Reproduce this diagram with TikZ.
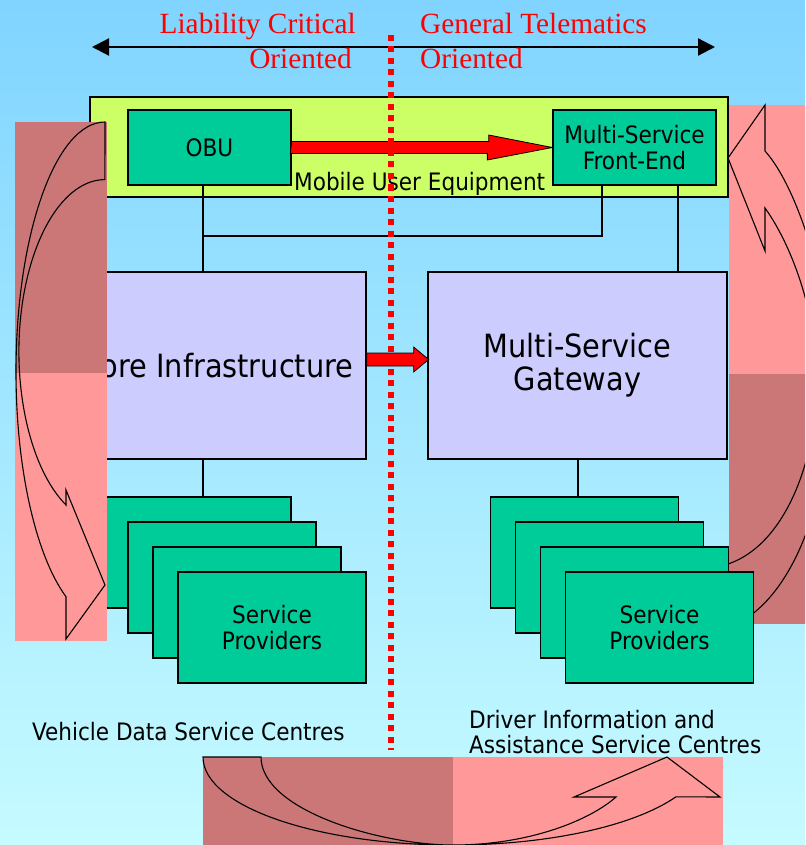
\documentclass[tikz,border=0pt]{standalone}
\usepackage{fontspec}
\setmainfont{DejaVu Sans Condensed}
\newfontfamily\timesred{Liberation Serif}
\usetikzlibrary{arrows.meta, positioning, calc}

\definecolor{skytop}{RGB}{128,212,255}
\definecolor{skybot}{RGB}{198,251,255}
\definecolor{spgreen}{RGB}{0,204,153}
\definecolor{mueyellow}{RGB}{204,255,102}
\definecolor{gwlilac}{RGB}{204,204,255}
\definecolor{pinkdark}{RGB}{204,119,119}
\definecolor{pinklight}{RGB}{255,153,153}

\begin{document}
\begin{tikzpicture}[
            x=1pt, y=-1pt,
            every node/.style={align=center, inner sep=0pt, font=\fontsize{24}{26}\selectfont},
            box/.style={draw=black, line width=1.3pt, fill=spgreen},
            bigbox/.style={draw=black, line width=1.3pt, fill=gwlilac, font=\fontsize{32}{33}\selectfont},
            spbox/.style={box, minimum width=188, minimum height=111},
            wire/.style={draw=black, line width=1.3pt},
            redarrow/.style={fill=red, draw=black, line width=0.8pt},
            turn/.style={draw=black, line width=1.1pt},
            redtext/.style={text=red, font=\timesred\fontsize{29.3}{35}\selectfont}
        ]
            \useasboundingbox (0,0) rectangle (805,845);
            \shade[top color=skytop, bottom color=skybot] (0,0) rectangle (805,845);
            \begin{scope}
            \clip (0,0) rectangle (805,845);

            \fill[pinklight] (729,105) rectangle (815,374);
            \fill[pinkdark] (729,374) rectangle (815,624);
            \draw[turn] (765,151) .. controls (800,190) and (832,300) .. (832,380)
                .. controls (832,480) and (800,600) .. (728,628) -- (728,564)
                .. controls (785,545) and (817,460) .. (817,380)
                .. controls (817,320) and (795,250) .. (765,208)
                -- (765,251) -- (728,158) -- (765,105) -- cycle;

            \node[box, fill=mueyellow, minimum width=638, minimum height=100] (mue) at (409,147) {};
            \node[box, minimum width=163, minimum height=75] (obu) at (209.5,147.5) {OBU};
            \node[box, minimum width=163, minimum height=75] (msfe) at (634.5,147.5) {Multi-Service\\Front-End};
            \draw[redarrow] (obu.east) ++(0,-6) -- ++(197,0) -- ++(0,-6.5) -- (msfe.west)
                -- ++(-65,12.5) -- ++(0,-6.5) -- ++(-197,0) -- cycle;
            \node[anchor=base west] (muelabel) at (294,190) {Mobile User Equipment};

            \node[bigbox, minimum width=298, minimum height=187] (core) at (217,365.5) {Core Infrastructure};
            \node[bigbox, minimum width=299, minimum height=187] (gw) at (577.5,365.5) {Multi-Service\\Gateway};
            \draw[redarrow] (core.east) ++(0,-12.5) -- ++(47,0) -- ++(0,-6) -- ++(15,12.5)
                -- ++(-15,12.5) -- ++(0,-6) -- ++(-47,0) -- cycle;

            \foreach \i in {0,1,2}
                \node[spbox] (spl\i) at ({197+25*\i},{552.5+25*\i}) {};
            \node[spbox] (spl3) at (272,627.5) {Service\\Providers};
            \foreach \i in {0,1,2}
                \node[spbox] (spr\i) at ({584.5+25*\i},{552.5+25*\i}) {};
            \node[spbox] (spr3) at (659.5,627.5) {Service\\Providers};

            \coordinate (tee) at (203,236);
            \draw[wire] ([xshift=-6.5]obu.south) -- ([xshift=-14]core.north);
            \draw[wire] ([xshift=-32.5]msfe.south) |- (tee);
            \draw[wire] ([xshift=43.5]msfe.south) -- ([xshift=100.5]gw.north);
            \draw[wire] ([xshift=-14]core.south) -- ([xshift=6]spl0.north);
            \draw[wire] ([xshift=0.5]gw.south) -- ([xshift=-6.5]spr0.north);

            \fill[pinkdark] (15,122) rectangle (107,373);
            \fill[pinklight] (15,373) rectangle (107,641);
            \draw[turn] (105,122) arc[start angle=270, end angle=116, x radius=89, y radius=250]
                -- (66,639) -- (105,585) -- (66,490) -- (66,505)
                arc[start angle=116.9, end angle=270, x radius=86, y radius=172] -- cycle;

            \fill[pinkdark] (203,757) rectangle (453,850);
            \fill[pinklight] (453,757) rectangle (723,850);
            \draw[turn] (203,757) arc[start angle=180, end angle=26.9, x radius=250, y radius=88]
                -- (720,797) -- (667,757) -- (574,797) -- (616,797)
                .. controls (590,820) and (530,845) .. (453,845)
                .. controls (380,845) and (261,810) .. (261,757) -- cycle;

            \node[anchor=base west] (vdsc) at (32,740) {Vehicle Data Service Centres};
            \node[anchor=north west, align=left, font=\fontsize{24}{25}\selectfont] (diasc) at (469,710)
                {Driver Information and\\Assistance Service Centres};

            \coordinate (axl) at (92,47);
            \coordinate (axr) at (715,47);
            \draw[line width=2.2pt, {Triangle[length=17pt,width=17pt]}-{Triangle[length=17pt,width=17pt]}] (axl) -- (axr);
            \node[redtext, anchor=base east] (lcTop) at (356,34) {Liability Critical};
            \node[redtext, anchor=base east] (lcBot) at (352,69) {Oriented};
            \node[redtext, anchor=base west] (gtTop) at (420,34) {General Telematics};
            \node[redtext, anchor=base west] (gtBot) at (420,69) {Oriented};

            \coordinate (divtop) at (391,35);
            \coordinate (divbot) at (391,750);
            \draw[red, line width=5.5pt, dash pattern=on 6pt off 5.5pt] (divtop) -- (divbot);
            \end{scope}
        \end{tikzpicture}
\end{document}
